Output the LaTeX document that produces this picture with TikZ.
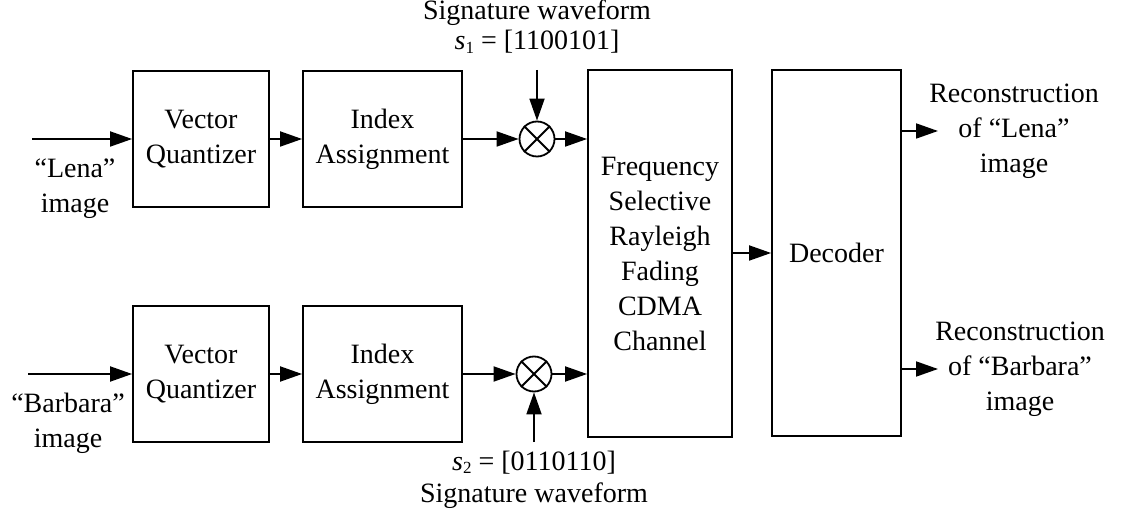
\documentclass[tikz,border=0pt]{standalone}
\usepackage{fontspec}
\setmainfont{Liberation Serif}
\usetikzlibrary{arrows.meta}
\newcommand{\sub}[1]{\raisebox{-0.3ex}{\fontsize{17}{17}\selectfont #1}}
\begin{document}
\begin{tikzpicture}[x=1pt,y=-1pt,
  every node/.style={font=\fontsize{28}{35}\selectfont},
  blk/.style={draw, line width=1.8pt, inner sep=0pt, align=center},
  lbl/.style={inner sep=0pt, align=center},
  arr/.style={line width=1.8pt, -{Triangle[length=22pt,width=15pt]}},
  mult/.style={circle, draw, line width=1.8pt, minimum size=35pt, inner sep=0pt}]
\useasboundingbox (0,0) rectangle (1124,518);

% top branch
\node[blk, minimum width=136pt, minimum height=136pt] (vq1) at (201,139) {Vector\\Quantizer};
\node[blk, minimum width=159pt, minimum height=136pt] (ia1) at (382.5,139) {Index\\Assignment};
\node[mult] (m1) at (537,139) {};
\draw[line width=1.8pt] (m1.north east) -- (m1.south west) (m1.north west) -- (m1.south east);

% bottom branch
\node[blk, minimum width=136pt, minimum height=136pt] (vq2) at (201,374) {Vector\\Quantizer};
\node[blk, minimum width=159pt, minimum height=136pt] (ia2) at (382.5,374) {Index\\Assignment};
\node[mult] (m2) at (534,374) {};
\draw[line width=1.8pt] (m2.north east) -- (m2.south west) (m2.north west) -- (m2.south east);

% channel and decoder
\node[blk, minimum width=144pt, minimum height=367pt] (ch) at (660,253.5)
  {Frequency\\Selective\\Rayleigh\\Fading\\CDMA\\Channel};
\node[blk, minimum width=129pt, minimum height=366pt] (dec) at (836.5,253) {Decoder};

% labels
\node[lbl] (lena) at (75,189) {“Lena”\\image};
\node[lbl] (barb) at (68,423) {“Barbara”\\image};
\node[lbl, anchor=base] (sig1) at (537,20) {Signature waveform};
\node[lbl, anchor=base] (s1) at (537,50) {\textit{s}\sub{1} = [1100101]};
\node[lbl, anchor=base] (s2) at (534,470) {\textit{s}\sub{2} = [0110110]};
\node[lbl, anchor=base] (sig2) at (534,502) {Signature waveform};
\node[lbl] (r1) at (1014,131) {Reconstruction\\of “Lena”\\image};
\node[lbl] (r2) at (1020,369) {Reconstruction\\of “Barbara”\\image};

% coordinates
\coordinate (in1) at (32,139);
\coordinate (in2) at (28,374);
\coordinate (t1) at (537,70);
\coordinate (t2) at (534,442);
\coordinate (o1) at (938,131);
\coordinate (o2) at (938,369);

% connectors
\draw[arr] (in1) -- (vq1.west);
\draw[arr] (vq1) -- (ia1);
\draw[arr] (ia1) -- (m1);
\draw[arr] (t1) -- (m1);
\draw[arr] (m1) -- (m1 -| ch.west);
\draw[arr] (in2) -- (vq2.west);
\draw[arr] (vq2) -- (ia2);
\draw[arr] (ia2) -- (m2);
\draw[arr] (t2) -- (m2);
\draw[arr] (m2) -- (m2 -| ch.west);
\draw[arr] (ch.east |- dec.west) -- (dec.west);
\draw[arr] (dec.east |- o1) -- (o1);
\draw[arr] (dec.east |- o2) -- (o2);
\end{tikzpicture}
\end{document}
